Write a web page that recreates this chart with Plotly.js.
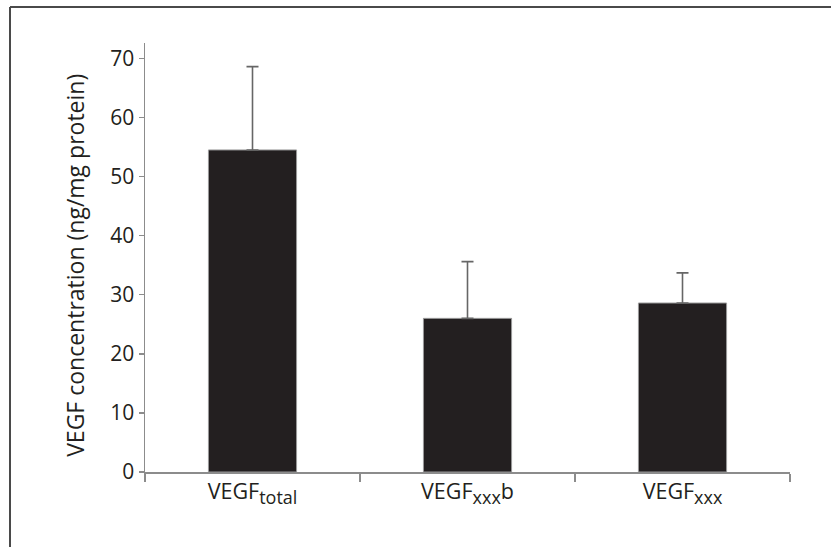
<!DOCTYPE html>
<html>
<head>
<meta charset="utf-8">
<script src="https://cdn.plot.ly/plotly-3.0.1.min.js"></script>
<style>
html,body{margin:0;padding:0;background:#fff;}
#chart{width:831px;height:547px;}
</style>
</head>
<body>
<div id="chart"></div>
<script>
const categories = ["VEGF<sub><span style=\"font-size:18px\">total</span></sub>", "VEGF<sub><span style=\"font-size:18px\">xxx</span></sub>b", "VEGF<sub><span style=\"font-size:18px\">xxx</span></sub>"];
const values = [54.5, 26.0, 28.6];
const errors = [14.1, 9.6, 5.1];
const yTicks = [0, 10, 20, 30, 40, 50, 60, 70];
const yTitle = "VEGF concentration (ng/mg protein)";

const trace = {
  type: "bar",
  x: categories,
  y: values,
  marker: {color: "#231f20", line: {color: "#9a9a9a", width: 1}},
  error_y: {type: "data", array: errors, symmetric: false, arrayminus: [0,0,0], color: "#666666", thickness: 1.6, width: 6},
  width: 0.41,
  hoverinfo: "none"
};

const fam = "Open Sans, Noto Sans, sans-serif";

const layout = {
  width: 831, height: 547,
  margin: {l: 145, r: 41, t: 43, b: 75},
  paper_bgcolor: "#ffffff",
  plot_bgcolor: "#ffffff",
  showlegend: false,
  font: {family: fam, color: "#231f20", size: 20},
  xaxis: {
    type: "category",
    showline: true, linecolor: "#8c8c8c", linewidth: 1.5,
    ticks: "outside", tickson: "boundaries", ticklen: 8, tickcolor: "#8c8c8c", tickwidth: 1.5,
    showgrid: false, zeroline: false,
    tickfont: {family: fam, color: "#231f20", size: 21.5}
  },
  yaxis: {
    range: [0, 72.6],
    tickvals: yTicks,
    showline: true, linecolor: "#8c8c8c", linewidth: 1.5,
    ticks: "outside", ticklen: 5, tickcolor: "#8c8c8c", tickwidth: 1.5,
    showgrid: false, zeroline: false,
    tickfont: {family: fam, color: "#231f20", size: 21}
  },
  annotations: [
    {text: yTitle, xref: "paper", yref: "paper", x: -0.1085, y: 0.4806, xanchor: "center", yanchor: "middle",
     textangle: -90, showarrow: false, font: {family: fam, color: "#231f20", size: 23}}
  ],
  shapes: [
    {type: "line", xref: "paper", yref: "paper", x0: -0.2093, x1: 1.2, y0: 1.0839, y1: 1.0839, line: {color: "#4a4a4a", width: 2}},
    {type: "line", xref: "paper", yref: "paper", x0: -0.2093, x1: -0.2093, y0: 1.0839, y1: -0.3, line: {color: "#4a4a4a", width: 2}}
  ]
};

Plotly.newPlot("chart", [trace], layout, {staticPlot: true, displayModeBar: false});
</script>
</body>
</html>
